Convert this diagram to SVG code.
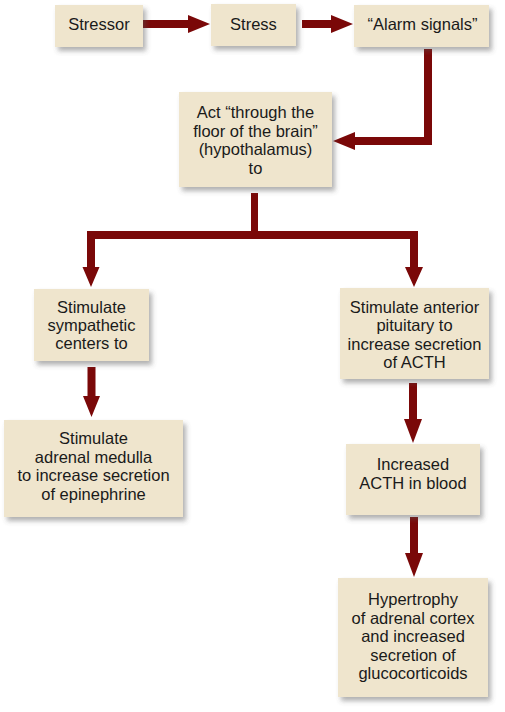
<svg xmlns="http://www.w3.org/2000/svg" width="505" height="712" viewBox="0 0 505 712">
<defs>
<filter id="sh" x="-10%" y="-10%" width="125%" height="130%">
<feDropShadow dx="3" dy="4" stdDeviation="2.5" flood-color="#555" flood-opacity="0.45"/>
</filter>
<style>
.box{fill:#EFE5CD;filter:url(#sh)}
.t{font-family:"Liberation Sans",Arial,Helvetica,sans-serif;font-size:16.5px;fill:#1a1a1a;text-anchor:middle}
.arr{fill:#7A0808}
</style>
</defs>
<rect width="505" height="712" fill="#fff"/>
<g id="connectors">
<path class="arr" d="M143,20 H188 V15 L210,24 L188,33 V28 H143 Z"/>
<path class="arr" d="M302,20 H331 V15 L353,24 L331,33 V28 H302 Z"/>
<path class="arr" d="M424,49 H432 V145 H355 V150 L333,141 L355,132 V137 H424 Z"/>
<path class="arr" d="M251,193 H258 V231 H418 V267 H423 L414,287 L405,267 H410 V239 H95 V267 H99.5 L91,287 L82.5,267 H87 V231 H251 Z"/>
<path class="arr" d="M87.5,367 H95.5 V396 H100 L91.5,417 L83,396 H87.5 Z"/>
<path class="arr" d="M409,383 H417 V419 H422 L413,443 L404,419 H409 Z"/>
<path class="arr" d="M410,517 H418 V553 H423 L414,577 L405,553 H410 Z"/>
</g>
<g id="stressor">
<rect class="box" x="55" y="5" width="88" height="42"/>
<text class="t" x="99" y="30">Stressor</text>
</g>
<g id="stress">
<rect class="box" x="211" y="4" width="85" height="42"/>
<text class="t" x="253.5" y="30">Stress</text>
</g>
<g id="alarm">
<rect class="box" x="354" y="5" width="135" height="42"/>
<text class="t" x="422.5" y="30">“Alarm signals”</text>
</g>
<g id="hypothalamus">
<rect class="box" x="179" y="92" width="153" height="95"/>
<text class="t" x="255.5" y="118">Act “through the</text>
<text class="t" x="255.5" y="136.5">floor of the brain”</text>
<text class="t" x="255.5" y="155">(hypothalamus)</text>
<text class="t" x="255.5" y="173.5">to</text>
</g>
<g id="sympathetic">
<rect class="box" x="34" y="289" width="115" height="72"/>
<text class="t" x="91.5" y="313">Stimulate</text>
<text class="t" x="91.5" y="331">sympathetic</text>
<text class="t" x="91.5" y="349">centers to</text>
</g>
<g id="medulla">
<rect class="box" x="4" y="420" width="179" height="97"/>
<text class="t" x="93.5" y="444">Stimulate</text>
<text class="t" x="93.5" y="462.5">adrenal medulla</text>
<text class="t" x="93.5" y="481">to increase secretion</text>
<text class="t" x="93.5" y="499.5">of epinephrine</text>
</g>
<g id="pituitary">
<rect class="box" x="340" y="288" width="149" height="91"/>
<text class="t" x="414.5" y="312.5">Stimulate anterior</text>
<text class="t" x="414.5" y="331">pituitary to</text>
<text class="t" x="414.5" y="349.5">increase secretion</text>
<text class="t" x="414.5" y="368">of ACTH</text>
</g>
<g id="acth">
<rect class="box" x="346" y="444" width="134" height="71"/>
<text class="t" x="413" y="470">Increased</text>
<text class="t" x="413" y="489">ACTH in blood</text>
</g>
<g id="cortex">
<rect class="box" x="338" y="578" width="150" height="119"/>
<text class="t" x="413" y="605">Hypertrophy</text>
<text class="t" x="413" y="623.5">of adrenal cortex</text>
<text class="t" x="413" y="642">and increased</text>
<text class="t" x="413" y="660.5">secretion of</text>
<text class="t" x="413" y="679">glucocorticoids</text>
</g>
</svg>
